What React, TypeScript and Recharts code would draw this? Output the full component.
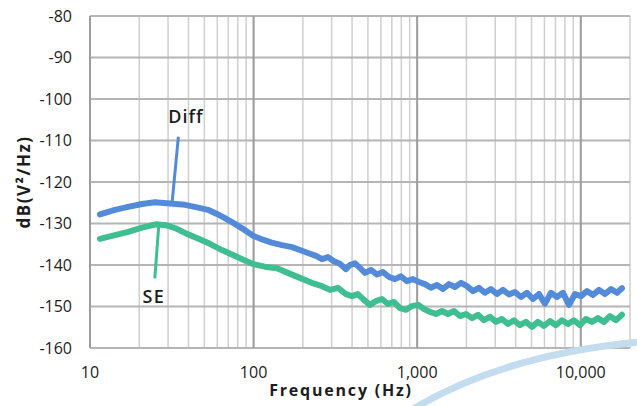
import React from 'react';
import {
  LineChart,
  Line,
  XAxis,
  YAxis,
  CartesianGrid,
  ReferenceLine,
  ReferenceDot,
} from 'recharts';

// ---- Data ----
const diffFreq = [
  11.5, 14.2, 17.1, 20.8, 24.9, 30.8, 38.1, 45.1, 52.6, 59.7, 66.8, 76.9, 88.5, 100, 114, 129, 149, 172, 192,
  215, 241, 262, 285, 310, 337, 367, 388, 417, 447, 480, 522, 568, 618, 673, 732, 796, 866, 942, 1026, 1116,
  1214, 1321, 1438, 1564, 1702, 1852, 2015, 2193, 2386, 2596, 2825, 3074, 3345, 3640, 3961, 4310, 4690, 5104,
  5554, 6043, 6576, 7156, 7787, 8473, 9220, 10033, 10917, 11880, 12927, 14066, 15306, 16655, 17860,
];
const diffDb = [
  -127.8, -126.7, -126.0, -125.3, -124.9, -125.2, -125.5, -126.1, -126.7, -127.7, -128.7, -130.1, -131.6,
  -133.0, -133.9, -134.6, -135.2, -135.7, -136.4, -137.1, -137.8, -138.6, -138.1, -139.1, -139.7, -141.0,
  -140.0, -139.6, -140.7, -141.9, -141.2, -142.3, -141.7, -142.9, -143.4, -142.7, -143.9, -143.4, -144.1,
  -144.6, -145.5, -144.8, -145.8, -144.6, -145.3, -144.3, -145.1, -146.3, -145.5, -146.7, -145.8, -147.0,
  -146.0, -147.1, -146.5, -147.7, -146.7, -148.2, -147.0, -149.3, -146.7, -147.7, -146.7, -149.6, -147.0,
  -147.5, -146.3, -147.2, -146.0, -147.0, -145.8, -146.7, -145.6,
];

const seFreq = [
  11.5, 14.2, 17.1, 20.8, 25.3, 29.1, 33.6, 39.2, 45.7, 54.1, 64.1, 74.8, 88.5, 100, 117, 139, 162, 192, 227,
  262, 293, 328, 367, 399, 434, 473, 514, 560, 609, 663, 721, 785, 855, 929, 1012, 1101, 1197, 1303, 1419,
  1542, 1679, 1828, 1987, 2163, 2355, 2559, 2786, 3034, 3296, 3589, 3908, 4246, 4624, 5035, 5470, 5957, 6486,
  7047, 7674, 8356, 9078, 9886, 10765, 11695, 12735, 13868, 15066, 16406, 17865,
];
const seDb = [
  -133.7, -132.8, -132.0, -131.0, -130.2, -130.4, -131.2, -132.5, -133.6, -134.9, -136.4, -137.6, -138.9,
  -139.8, -140.4, -140.8, -141.9, -143.1, -144.3, -145.1, -146.0, -145.5, -147.0, -147.5, -147.0, -148.4,
  -149.6, -148.7, -148.2, -149.4, -148.9, -150.4, -150.8, -149.9, -149.6, -150.6, -151.3, -151.8, -151.1,
  -151.8, -151.1, -152.3, -151.8, -152.8, -152.0, -153.3, -152.5, -153.7, -153.0, -154.2, -153.3, -154.5,
  -153.7, -154.9, -153.7, -154.7, -153.5, -154.5, -153.3, -154.2, -153.3, -154.5, -153.0, -153.7, -152.8,
  -153.7, -152.3, -153.3, -152.0,
];

const xMajorTicks = [10, 100, 1000, 10000];
const xMinorTicks = [
  20, 30, 40, 50, 60, 70, 80, 90, 200, 300, 400, 500, 600, 700, 800, 900, 2000, 3000, 4000, 5000, 6000, 7000,
  8000, 9000, 20000,
];
const xAllTicks = [...xMajorTicks, ...xMinorTicks].sort((a, b) => a - b);
const yTicks = [-160, -150, -140, -130, -120, -110, -100, -90, -80];

// annotation leader lines (data coordinates)
const diffLeader = [
  { x: 34.7, y: -109.1 },
  { x: 31.7, y: -125.3 },
];
const seLeader = [
  { x: 24.9, y: -143.2 },
  { x: 26.4, y: -129.8 },
];
const diffLabelPos = { x: 38.6, y: -104.3 };
const seLabelPos = { x: 24.6, y: -147.5 };

const diffData = diffFreq.map((f, i) => ({ f, v: diffDb[i] }));
const seData = seFreq.map((f, i) => ({ f, v: seDb[i] }));

const BLUE = '#548bd9';
const GREEN = '#3fbf91';
const TEXT = '#1c1c1c';

const fmt = (v: number) => (xMajorTicks.includes(v) ? v.toLocaleString('en-US') : '');

export default function App() {
  return (
    <div
      style={{
        position: 'absolute',
        left: 0,
        top: 0,
        width: 637,
        height: 406,
        background: '#fff',
        fontFamily: '"Open Sans", sans-serif',
      }}
    >
      <LineChart width={637} height={406} margin={{ top: 16, right: 7, bottom: 0, left: 0 }}>
        <CartesianGrid stroke="#cfcfcf" strokeWidth={1.5} horizontal={false} />
        <CartesianGrid stroke="#b5b5b5" strokeWidth={2} vertical={false} />
        {xMajorTicks.map((t) => (
          <ReferenceLine key={t} x={t} stroke="#9d9d9d" strokeWidth={2} />
        ))}
        <XAxis
          dataKey="f"
          type="number"
          scale="log"
          domain={[10, 20000]}
          ticks={xAllTicks}
          interval={0}
          tickFormatter={fmt}
          allowDataOverflow
          axisLine={false}
          tickLine={false}
          tickMargin={13}
          height={58}
          tick={{ fill: TEXT, fontSize: 16 }}
          label={{
            value: 'Frequency (Hz)',
            position: 'insideBottom',
            offset: 10,
            dx: -19,
            fill: TEXT,
            fontSize: 16,
            fontWeight: 700,
            letterSpacing: 1.8,
          }}
        />
        <YAxis
          type="number"
          domain={[-160, -80]}
          ticks={yTicks}
          interval={0}
          axisLine={false}
          tickLine={false}
          tickMargin={12}
          width={90}
          tick={{ fill: TEXT, fontSize: 16 }}
          label={{
            value: 'dB(V²/Hz)',
            angle: -90,
            position: 'center',
            dx: -21,
            fill: TEXT,
            fontSize: 17,
            fontWeight: 700,
            letterSpacing: 1.5,
          }}
        />
        <Line
          data={seData}
          dataKey="v"
          type="linear"
          stroke={GREEN}
          strokeWidth={6}
          dot={false}
          isAnimationActive={false}
          strokeLinejoin="round"
          strokeLinecap="round"
        />
        <Line
          data={diffData}
          dataKey="v"
          type="linear"
          stroke={BLUE}
          strokeWidth={6}
          dot={false}
          isAnimationActive={false}
          strokeLinejoin="round"
          strokeLinecap="round"
        />
        <ReferenceLine segment={diffLeader} stroke={BLUE} strokeWidth={3} />
        <ReferenceLine segment={seLeader} stroke={GREEN} strokeWidth={3} />
        <ReferenceDot
          x={diffLabelPos.x}
          y={diffLabelPos.y}
          r={0}
          fill="none"
          stroke="none"
          label={{ value: 'Diff', position: 'center', fill: TEXT, fontSize: 18, fontWeight: 600, letterSpacing: 1 }}
        />
        <ReferenceDot
          x={seLabelPos.x}
          y={seLabelPos.y}
          r={0}
          fill="none"
          stroke="none"
          label={{ value: 'SE', position: 'center', fill: TEXT, fontSize: 18, fontWeight: 600, letterSpacing: 1.5 }}
        />
      </LineChart>
      <svg
        width={637}
        height={406}
        style={{ position: 'absolute', left: 0, top: 0, pointerEvents: 'none' }}
      >
        <path d="M 408 412 Q 500 355 640 342" fill="none" stroke="#c3ddef" strokeWidth={7} />
      </svg>
    </div>
  );
}
